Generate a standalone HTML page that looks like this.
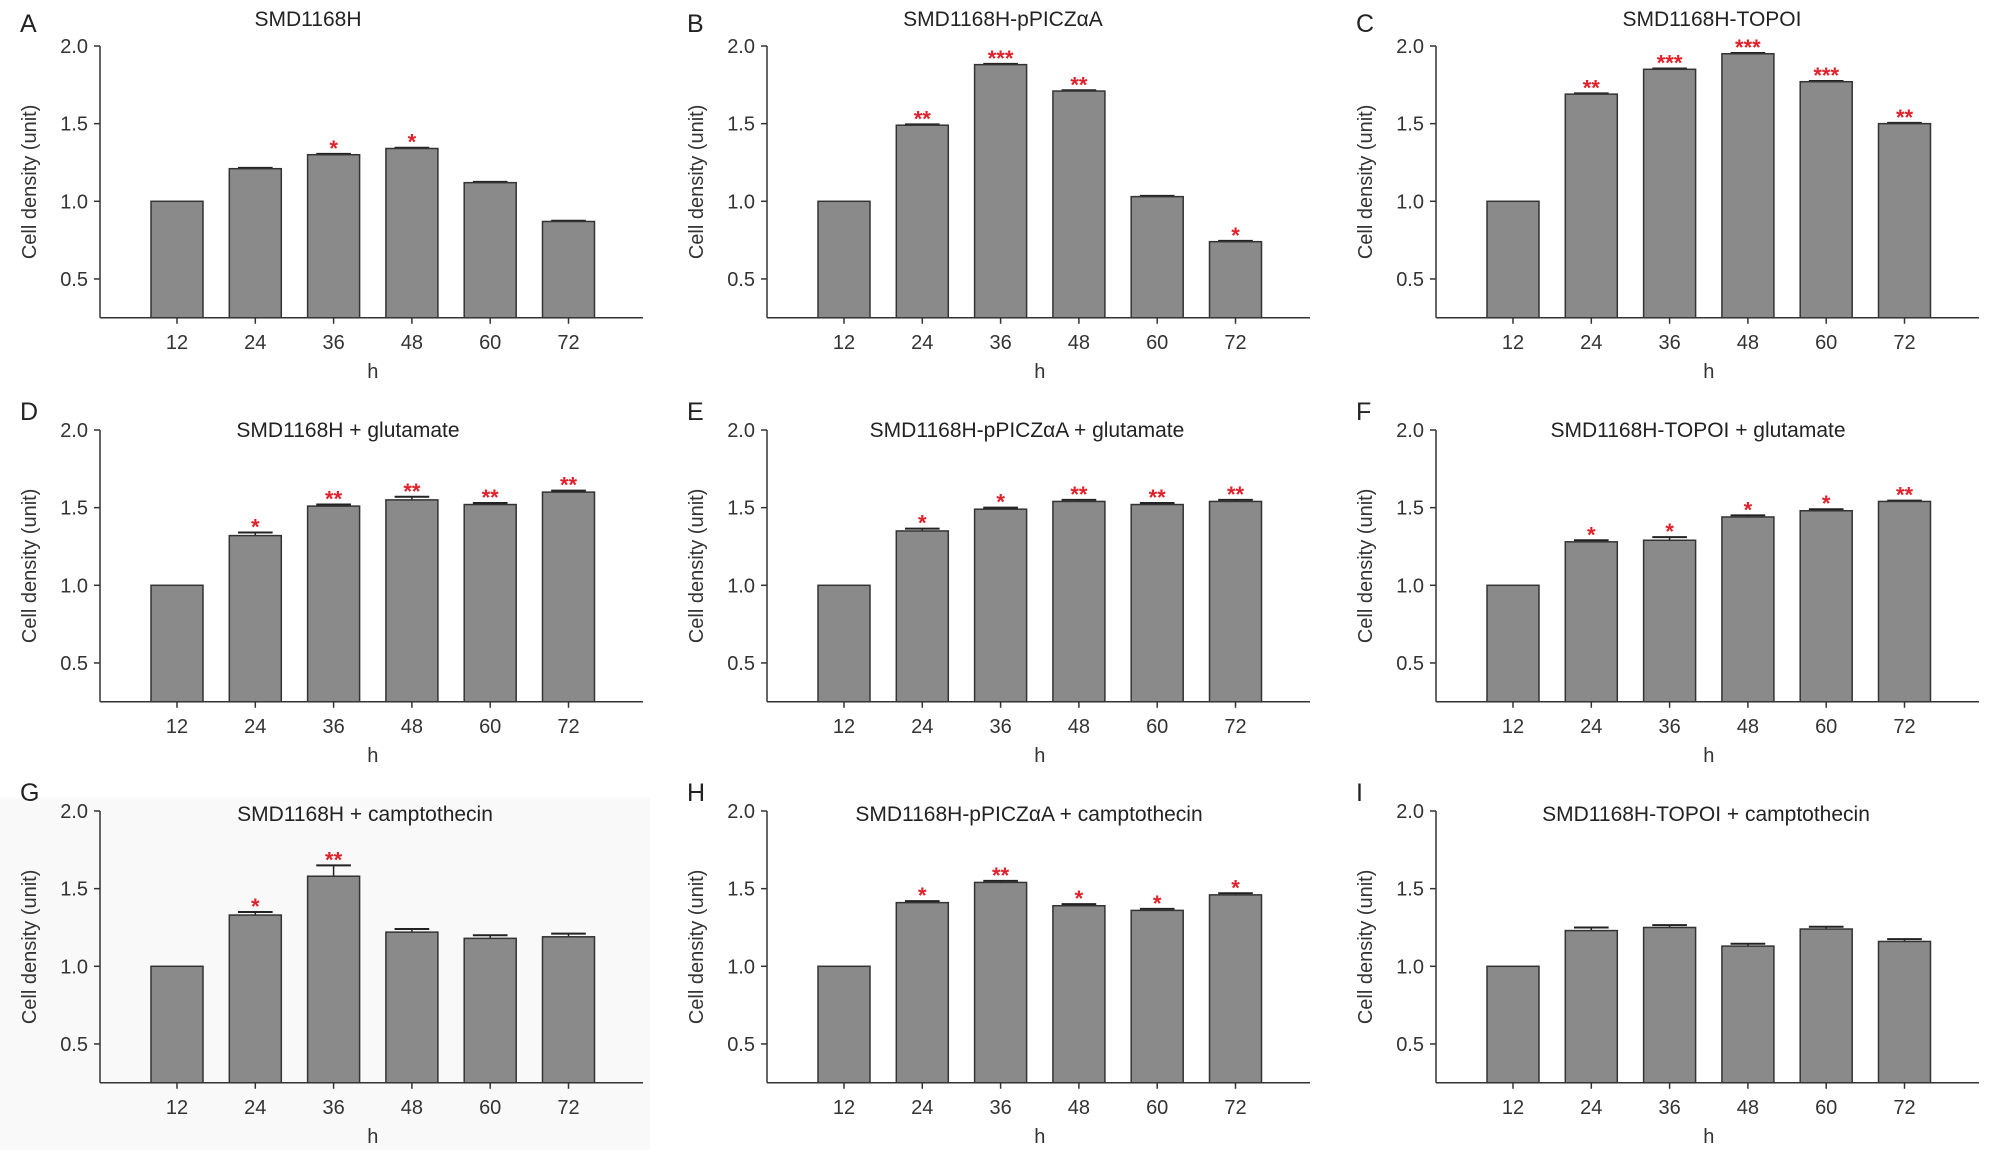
<!DOCTYPE html>
<html><head><meta charset="utf-8"><style>
body{margin:0;background:#fff;}
svg{display:block;font-family:"Liberation Sans",sans-serif;}
</style></head><body>
<svg id="fig" width="2008" height="1158" viewBox="0 0 2008 1158" xmlns="http://www.w3.org/2000/svg">
<rect x="0" y="798" width="650" height="352" fill="#f9f9f9"/>
</svg>
<script>
const categories = ["12","24","36","48","60","72"];
const yTicks = [0.5, 1.0, 1.5, 2.0];
const yTickLabels = ["0.5","1.0","1.5","2.0"];
const panelLetters = ["A","B","C","D","E","F","G","H","I"];
const panelTitles = ["SMD1168H","SMD1168H-pPICZαA","SMD1168H-TOPOI","SMD1168H + glutamate","SMD1168H-pPICZαA + glutamate","SMD1168H-TOPOI + glutamate","SMD1168H + camptothecin","SMD1168H-pPICZαA + camptothecin","SMD1168H-TOPOI + camptothecin"];
const valuesA = [1.0,1.21,1.30,1.34,1.12,0.87];
const valuesB = [1.0,1.49,1.88,1.71,1.03,0.74];
const valuesC = [1.0,1.69,1.85,1.95,1.77,1.50];
const valuesD = [1.0,1.32,1.51,1.55,1.52,1.60];
const valuesE = [1.0,1.35,1.49,1.54,1.52,1.54];
const valuesF = [1.0,1.28,1.29,1.44,1.48,1.54];
const valuesG = [1.0,1.33,1.58,1.22,1.18,1.19];
const valuesH = [1.0,1.41,1.54,1.39,1.36,1.46];
const valuesI = [1.0,1.23,1.25,1.13,1.24,1.16];
const errorsA = [0,0.005,0.005,0.005,0.005,0.005];
const errorsB = [0,0.005,0.005,0.005,0.005,0.005];
const errorsC = [0,0.005,0.005,0.005,0.005,0.005];
const errorsD = [0,0.02,0.01,0.02,0.01,0.01];
const errorsE = [0,0.015,0.01,0.01,0.01,0.01];
const errorsF = [0,0.01,0.02,0.01,0.01,0.005];
const errorsG = [0,0.02,0.07,0.02,0.02,0.02];
const errorsH = [0,0.01,0.01,0.01,0.01,0.01];
const errorsI = [0,0.02,0.015,0.015,0.015,0.015];
const starsA = ["","","*","*","",""];
const starsB = ["","**","***","**","","*"];
const starsC = ["","**","***","***","***","**"];
const starsD = ["","*","**","**","**","**"];
const starsE = ["","*","*","**","**","**"];
const starsF = ["","*","*","*","*","**"];
const starsG = ["","*","**","","",""];
const starsH = ["","*","**","*","*","*"];
const starsI = ["","","","","",""];

const allValues=[valuesA,valuesB,valuesC,valuesD,valuesE,valuesF,valuesG,valuesH,valuesI];
const allErrors=[errorsA,errorsB,errorsC,errorsD,errorsE,errorsF,errorsG,errorsH,errorsI];
const allStars=[starsA,starsB,starsC,starsD,starsE,starsF,starsG,starsH,starsI];
const colX=[100,767,1436];
const rowTop=[46,430,811];
const titleDY=[-20,7,10];
const titleOff=[208,236,276,248,260,262,265,262,270];
const NS="http://www.w3.org/2000/svg";
const svg=document.getElementById('fig');
function mk(tag,attrs,parent,text){const e=document.createElementNS(NS,tag);for(const k in attrs)e.setAttribute(k,attrs[k]);if(text!==undefined)e.textContent=text;(parent||svg).appendChild(e);return e;}
const PPU=155.3, YMIN=0.25, W=543, BW=52, STEP=78.3, FIRST=77;
for(let p=0;p<9;p++){
  const r=Math.floor(p/3);
  const ax=colX[p%3], top=rowTop[r];
  const y=v=>top+(2.0-v)*PPU;
  const x=i=>ax+FIRST+i*STEP;
  const base=y(YMIN);
  const g=mk('g',{});
  
  
  const L=mk('text',{x:ax-80,y:top-14+(r>0?4:0),'font-size':25,fill:'#222'},g,panelLetters[p]);
  
  
  const T=mk('text',{x:ax+titleOff[p],y:top+titleDY[r],'font-size':21,'text-anchor':'middle',fill:'#222'},g,panelTitles[p]);
  
  
  const ya=mk('line',{x1:ax,y1:y(2.0),x2:ax,y2:base,stroke:'#333','stroke-width':1.5},g);
  
  
  const xa=mk('line',{x1:ax,y1:base,x2:ax+W,y2:base,stroke:'#333','stroke-width':1.5},g);
  
  
  yTicks.forEach((t,k)=>{
    mk('line',{x1:ax-6,y1:y(t),x2:ax,y2:y(t),stroke:'#333','stroke-width':1.5},g);
    const tl=mk('text',{x:ax-12,y:y(t)+7,'font-size':20,'text-anchor':'end',fill:'#333'},g,yTickLabels[k]);
    
    
  });
  const yl=mk('text',{transform:`translate(${ax-64},${(y(2.0)+base)/2}) rotate(-90)`,'font-size':20,'text-anchor':'middle',fill:'#333'},g,'Cell density (unit)');
  
  
  const xl=mk('text',{x:ax+FIRST+2.5*STEP,y:base+60,'font-size':20,'text-anchor':'middle',fill:'#333'},g,'h');
  
  
  categories.forEach((c,i)=>{
    const v=allValues[p][i], e=allErrors[p][i], cx=x(i);
    mk('line',{x1:cx,y1:base,x2:cx,y2:base+6,stroke:'#333','stroke-width':1.5},g);
    const cl=mk('text',{x:cx,y:base+31,'font-size':20,'text-anchor':'middle',fill:'#333'},g,c);
    
    
    if(e>0){
      mk('line',{x1:cx,y1:y(v),x2:cx,y2:y(v+e),stroke:'#222','stroke-width':1.5},g);
      mk('line',{x1:cx-BW/3,y1:y(v+e),x2:cx+BW/3,y2:y(v+e),stroke:'#222','stroke-width':2},g);
    }
    const b=mk('rect',{x:cx-BW/2,y:y(v),width:BW,height:base-y(v),fill:'#8a8a8a',stroke:'#333','stroke-width':1.5},g);
    
    
    if(allStars[p][i]){
      const s=mk('text',{x:cx,y:y(v+e)+2,'font-size':22,'font-weight':'bold','text-anchor':'middle',fill:'#e0202a'},g,allStars[p][i]);
      
      
    }
  });
}
</script>
</body></html>
